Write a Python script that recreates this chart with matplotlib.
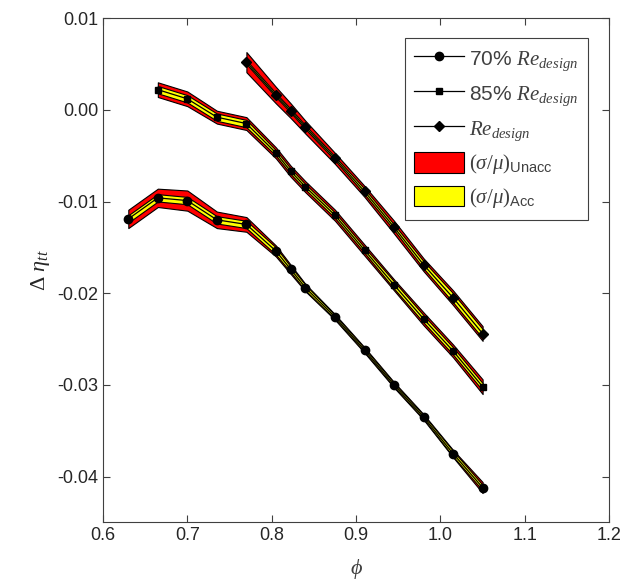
import numpy as np
import matplotlib.pyplot as plt
from matplotlib.lines import Line2D
from matplotlib.patches import Patch

plt.rcParams['font.family'] = ['Liberation Sans', 'DejaVu Sans']
plt.rcParams['mathtext.fontset'] = 'custom'
plt.rcParams['mathtext.rm'] = 'Liberation Serif'
plt.rcParams['mathtext.it'] = 'Liberation Serif:italic'
plt.rcParams['mathtext.sf'] = 'Liberation Sans'

# 70% Re_design
phi_70 = [0.63, 0.665, 0.70, 0.735, 0.77, 0.805, 0.8225, 0.84, 0.875, 0.91, 0.945, 0.98, 1.015, 1.05]
eta_70 = [-0.0119, -0.0096, -0.0099, -0.0120, -0.0125, -0.0154, -0.0174, -0.0194, -0.0226, -0.0262, -0.0300, -0.0335, -0.0375, -0.0412]
unacc_70 = [0.0010, 0.0010, 0.0011, 0.0009, 0.0008, 0.0006, 0.0005, 0.0004, 0.0003, 0.0003, 0.0003, 0.0003, 0.0004, 0.0006]
acc_70 = [0.0004, 0.0004, 0.0004, 0.0004, 0.0004, 0.0004, 0.0003, 0.0003, 0.0002, 0.0002, 0.0002, 0.0002, 0.0003, 0.0003]

# 85% Re_design
phi_85 = [0.665, 0.70, 0.735, 0.77, 0.805, 0.8225, 0.84, 0.875, 0.91, 0.945, 0.98, 1.015, 1.05]
eta_85 = [0.0022, 0.0012, -0.0008, -0.0015, -0.0047, -0.0067, -0.0084, -0.0115, -0.0153, -0.0191, -0.0228, -0.0263, -0.0302]
unacc_85 = [0.0008, 0.0008, 0.0007, 0.0007, 0.0006, 0.0006, 0.0006, 0.0006, 0.0006, 0.0006, 0.0007, 0.0007, 0.0008]
acc_85 = [0.0004, 0.0004, 0.0004, 0.0004, 0.0003, 0.0003, 0.0003, 0.0003, 0.0003, 0.0004, 0.0004, 0.0004, 0.0004]

# Re_design
phi_100 = [0.77, 0.805, 0.8225, 0.84, 0.875, 0.91, 0.945, 0.98, 1.015, 1.05]
eta_100 = [0.0052, 0.0016, -0.0001, -0.0019, -0.0053, -0.0089, -0.0128, -0.0169, -0.0205, -0.0244]
unacc_100 = [0.0011, 0.0009, 0.0008, 0.0007, 0.0006, 0.0006, 0.0007, 0.0007, 0.0008, 0.0008]
acc_100 = [0.0002, 0.0002, 0.0002, 0.0002, 0.0002, 0.0003, 0.0003, 0.0004, 0.0005, 0.0005]

fig = plt.figure(figsize=(6.28, 5.85), dpi=100)
ax = fig.add_axes([0.164, 0.107, 0.806, 0.862])

series = [
    (phi_70, eta_70, unacc_70, acc_70, 'o', 6),
    (phi_85, eta_85, unacc_85, acc_85, 's', 5),
    (phi_100, eta_100, unacc_100, acc_100, 'D', 5),
]
for x, y, su, sa, mk, ms in series:
    x = np.array(x); y = np.array(y); su = np.array(su); sa = np.array(sa)
    ax.fill_between(x, y - su, y + su, facecolor='#ff0000', edgecolor='black', lw=0.8, zorder=2)
    ax.fill_between(x, y - sa, y + sa, facecolor='#ffff00', edgecolor='black', lw=0.8, zorder=3)
    ax.plot(x, y, color='black', lw=0.9, marker=mk, ms=ms, zorder=4)

ax.set_xlim(0.6, 1.2)
ax.set_ylim(-0.045, 0.01)
ax.set_xticks(np.arange(0.6, 1.21, 0.1))
ax.set_xticklabels(['0.6', '0.7', '0.8', '0.9', '1.0', '1.1', '1.2'])
ax.set_yticks([-0.04, -0.03, -0.02, -0.01, 0.0, 0.01])
ax.set_yticklabels(['-0.04', '-0.03', '-0.02', '-0.01', '0.00', '0.01'])
ax.tick_params(direction='in', top=True, right=True, labelsize=13, colors='#404040',
               labelcolor='#262626', length=5, width=0.8)
for s in ax.spines.values():
    s.set_color('#404040')
    s.set_linewidth(0.8)

ax.set_xlabel(r'$\phi$', fontsize=16, color='#404040', labelpad=9)
ax.set_ylabel(r'$\Delta\ \eta_{tt}$', fontsize=16, color='#262626', labelpad=4)

handles = [
    Line2D([], [], color='black', lw=0.9, marker='o', ms=6),
    Line2D([], [], color='black', lw=0.9, marker='s', ms=5),
    Line2D([], [], color='black', lw=0.9, marker='D', ms=5),
    Patch(facecolor='#ff0000', edgecolor='black', lw=0.8),
    Patch(facecolor='#ffff00', edgecolor='black', lw=0.8),
]
labels = [
    r'70% $Re_{design}$',
    r'85% $Re_{design}$',
    r'$Re_{design}$',
    r'$(\sigma/\mu)_{\mathsf{Unacc}}$',
    r'$(\sigma/\mu)_{\mathsf{Acc}}$',
]
leg = ax.legend(handles, labels, loc='upper right', bbox_to_anchor=(0.958, 0.960),
                borderaxespad=0, fontsize=15, handlelength=2.4, handleheight=1.15,
                labelspacing=0.45, handletextpad=0.25, borderpad=0.45, fancybox=False,
                framealpha=1, edgecolor='#404040')
leg.get_frame().set_linewidth(0.8)
for t in leg.get_texts():
    t.set_color('#404040')

fig.savefig('out.png', dpi=100)
